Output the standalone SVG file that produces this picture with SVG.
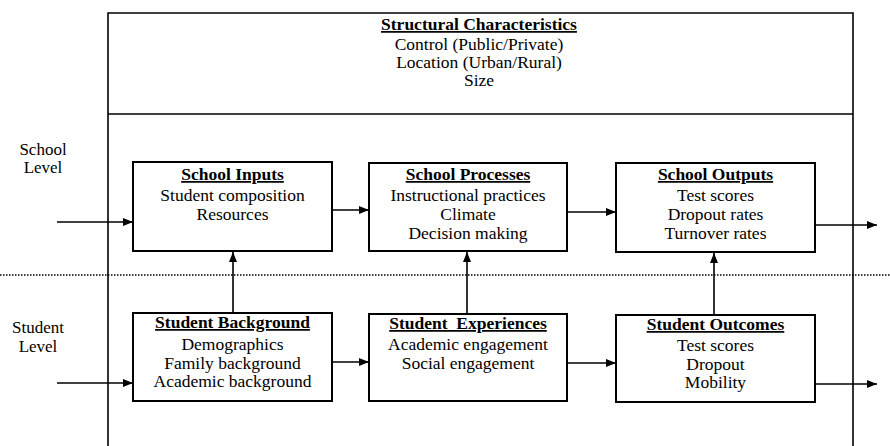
<svg xmlns="http://www.w3.org/2000/svg" width="890" height="446" viewBox="0 0 890 446">
<style>
text{font-family:"Liberation Serif","Times New Roman",serif;font-size:17.5px;fill:#000;text-anchor:middle}
.t{font-weight:bold;text-decoration:underline}
.lbl{font-size:17px}
.box{fill:#fff;stroke:#000;stroke-width:2}
.frame{fill:none;stroke:#000;stroke-width:1.6}
.c line{stroke:#000;stroke-width:1.6}
</style>
<defs>
<marker id="ah" viewBox="0 0 10 8" refX="10" refY="4" markerWidth="10" markerHeight="8" markerUnits="userSpaceOnUse" orient="auto">
<path d="M0,0L10,4L0,8z" fill="#000"/>
</marker>
</defs>
<g id="frame">
<path class="frame" d="M108,446V13H853V446M108,114H853"/>
<line x1="0" y1="275" x2="890" y2="275" stroke="#000" stroke-width="1.5" stroke-dasharray="1.5 1.5"/>
</g>
<g id="structural">
<text class="t" x="479" y="30">Structural Characteristics</text>
<text x="479" y="50">Control (Public/Private)</text>
<text x="479" y="68">Location (Urban/Rural)</text>
<text x="479" y="86">Size</text>
</g>
<g id="school-level">
<text class="lbl" x="43" y="155">School</text>
<text class="lbl" x="43" y="173">Level</text>
</g>
<g id="student-level">
<text class="lbl" x="38" y="333">Student</text>
<text class="lbl" x="38" y="352">Level</text>
</g>
<g class="c" id="connectors">
<line x1="57" y1="222" x2="133" y2="222" marker-end="url(#ah)"/>
<line x1="57" y1="383" x2="133" y2="383" marker-end="url(#ah)"/>
<line x1="332" y1="210" x2="369" y2="210" marker-end="url(#ah)"/>
<line x1="567" y1="212" x2="616" y2="212" marker-end="url(#ah)"/>
<line x1="815" y1="225" x2="877" y2="225" marker-end="url(#ah)"/>
<line x1="332" y1="362" x2="369" y2="362" marker-end="url(#ah)"/>
<line x1="567" y1="363" x2="616" y2="363" marker-end="url(#ah)"/>
<line x1="815" y1="384" x2="877" y2="384" marker-end="url(#ah)"/>
<line x1="233" y1="313" x2="233" y2="252" marker-end="url(#ah)"/>
<line x1="467" y1="314" x2="467" y2="252" marker-end="url(#ah)"/>
<line x1="714" y1="315" x2="714" y2="253" marker-end="url(#ah)"/>
</g>
<g id="school-inputs">
<rect class="box" x="133" y="162" width="199" height="89"/>
<text class="t" x="232.5" y="180">School Inputs</text>
<text x="232.5" y="201">Student composition</text>
<text x="232.5" y="220">Resources</text>
</g>
<g id="school-processes">
<rect class="box" x="369" y="163" width="198" height="88"/>
<text class="t" x="468" y="180">School Processes</text>
<text x="468" y="201">Instructional practices</text>
<text x="468" y="220">Climate</text>
<text x="468" y="239">Decision making</text>
</g>
<g id="school-outputs">
<rect class="box" x="616" y="163" width="199" height="89"/>
<text class="t" x="715.5" y="180">School Outputs</text>
<text x="715.5" y="201">Test scores</text>
<text x="715.5" y="220">Dropout rates</text>
<text x="715.5" y="239">Turnover rates</text>
</g>
<g id="student-background">
<rect class="box" x="133" y="313" width="199" height="88"/>
<text class="t" x="232.5" y="328">Student Background</text>
<text x="232.5" y="350">Demographics</text>
<text x="232.5" y="369">Family background</text>
<text x="232.5" y="387">Academic background</text>
</g>
<g id="student-experiences">
<rect class="box" x="369" y="314" width="198" height="87"/>
<text class="t" x="468" y="329" xml:space="preserve">Student  Experiences</text>
<text x="468" y="350">Academic engagement</text>
<text x="468" y="369">Social engagement</text>
</g>
<g id="student-outcomes">
<rect class="box" x="616" y="315" width="199" height="87"/>
<text class="t" x="715.5" y="330">Student Outcomes</text>
<text x="715.5" y="351">Test scores</text>
<text x="715.5" y="370">Dropout</text>
<text x="715.5" y="388">Mobility</text>
</g>
</svg>
